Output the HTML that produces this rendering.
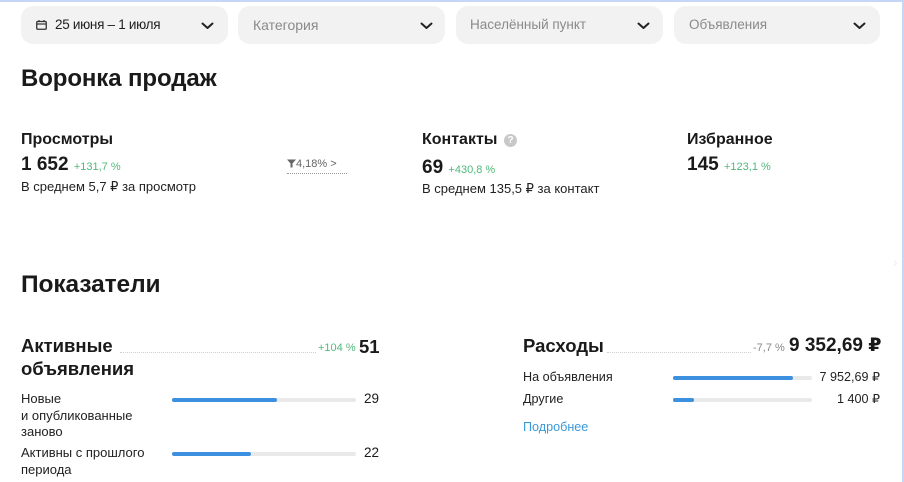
<!DOCTYPE html>
<html><head><meta charset="utf-8">
<style>
*{margin:0;padding:0;box-sizing:border-box}
html,body{width:904px;height:482px;overflow:hidden;background:#fff}
body{position:relative;font-family:"Liberation Sans","DejaVu Sans",sans-serif;color:#1a1a1a}
.a{position:absolute;white-space:nowrap}
.pill{position:absolute;top:6px;height:38px;background:#f2f2f2;border-radius:12px}
.pt{position:absolute;top:0;line-height:38px;font-size:13.5px;color:#8a8a8a}
.chev{position:absolute;top:19px}
.h1{font-size:24px;font-weight:bold;line-height:30px;letter-spacing:-0.1px}
.h3{font-size:16px;font-weight:bold;line-height:20px}
.big{font-size:19px;font-weight:bold;line-height:22px}
.g{color:#4fb97a;font-size:11px}
.s{font-size:12.6px;line-height:16px;color:#222}
.h2{font-size:18.5px;font-weight:bold;line-height:23px}
.bar{position:absolute;height:4px;background:#e9e9e9;border-radius:2px}
.bar i{position:absolute;left:0;top:0;height:4px;background:#3d8fe0;border-radius:2px}
.dots{position:absolute;height:0;border-top:1px dotted #cfcfcf}
</style></head><body>
<div class="a" style="left:0;top:0;width:904px;height:2px;background:#c6d6f6"></div>
<div class="a" style="left:902px;top:0;width:2px;height:482px;background:#c6d6f6"></div>

<!-- filters -->
<div class="pill" style="left:21px;width:207px">
  <svg class="a" style="left:15px;top:14px" width="11" height="10" viewBox="0 0 11 10"><rect x="0.75" y="1.5" width="9.5" height="7.75" rx="1" fill="none" stroke="#333" stroke-width="1.3"/><line x1="0.75" y1="4" x2="10.25" y2="4" stroke="#333" stroke-width="1.2"/><line x1="3" y1="0" x2="3" y2="2" stroke="#333" stroke-width="1.2"/><line x1="8" y1="0" x2="8" y2="2" stroke="#333" stroke-width="1.2"/></svg>
  <div class="pt" style="left:34px;color:#1e1e1e;font-size:13.5px;letter-spacing:-0.3px">25 июня – 1 июля</div>
  <svg class="chev" style="left:180px;top:16px" width="13" height="8" viewBox="0 0 13 8"><polyline points="1.5,1.5 6.5,6 11.5,1.5" fill="none" stroke="#222" stroke-width="2" stroke-linecap="round" stroke-linejoin="round"/></svg>
</div>
<div class="pill" style="left:238px;width:207px">
  <div class="pt" style="left:15px;font-size:14px">Категория</div>
  <svg class="chev" style="left:182px;top:16px" width="13" height="8" viewBox="0 0 13 8"><polyline points="1.5,1.5 6.5,6 11.5,1.5" fill="none" stroke="#222" stroke-width="2" stroke-linecap="round" stroke-linejoin="round"/></svg>
</div>
<div class="pill" style="left:456px;width:207px">
  <div class="pt" style="left:14px">Населённый пункт</div>
  <svg class="chev" style="left:181px;top:16px" width="13" height="8" viewBox="0 0 13 8"><polyline points="1.5,1.5 6.5,6 11.5,1.5" fill="none" stroke="#222" stroke-width="2" stroke-linecap="round" stroke-linejoin="round"/></svg>
</div>
<div class="pill" style="left:674px;width:206px">
  <div class="pt" style="left:15px">Объявления</div>
  <svg class="chev" style="left:179px;top:16px" width="13" height="8" viewBox="0 0 13 8"><polyline points="1.5,1.5 6.5,6 11.5,1.5" fill="none" stroke="#222" stroke-width="2" stroke-linecap="round" stroke-linejoin="round"/></svg>
</div>

<div class="a h1" style="left:21px;top:64px">Воронка продаж</div>

<!-- Просмотры -->
<div class="a h3" style="left:21px;top:130px">Просмотры</div>
<div class="a big" style="left:21px;top:154px">1 652 <span class="g" style="font-weight:normal">+131,7 %</span></div>
<div class="a s" style="left:21px;top:179px;font-size:13px">В среднем 5,7 ₽ за просмотр</div>

<div class="a" style="left:287px;top:157px;font-size:11px;line-height:14px;color:#666">
  <svg width="9" height="9" viewBox="0 0 9 9" style="vertical-align:-1px"><path d="M0,0.5 H9 L5.5,4.5 V8.5 H3.5 V4.5 Z" fill="#666"/></svg>4,18% &gt;
</div>
<div class="dots" style="left:287px;top:173px;width:60px;border-top:1px dotted #999"></div>

<!-- Контакты -->
<div class="a h3" style="left:422px;top:130px">Контакты</div>
<div class="a" style="left:504px;top:134px;width:13px;height:13px;border-radius:50%;background:#c8c8c8;color:#fff;font-size:10px;font-weight:bold;line-height:13px;text-align:center">?</div>
<div class="a big" style="left:422px;top:157px">69 <span class="g" style="font-weight:normal">+430,8 %</span></div>
<div class="a s" style="left:422px;top:181px;font-size:13px">В среднем 135,5 ₽ за контакт</div>

<!-- Избранное -->
<div class="a h3" style="left:687px;top:130px">Избранное</div>
<div class="a big" style="left:687px;top:154px">145 <span class="g" style="font-weight:normal">+123,1 %</span></div>

<div class="a h1" style="left:21px;top:270px;font-size:24.5px">Показатели</div>

<!-- Активные объявления -->
<div class="a h2" style="left:21px;top:334px">Активные</div>
<div class="a h2" style="left:21px;top:357px">объявления</div>
<div class="dots" style="left:120px;top:352px;width:196px"></div>
<div class="a g" style="left:318px;top:341px;line-height:14px">+104 %</div>
<div class="a h2" style="left:359px;top:335px">51</div>

<div class="a s" style="left:21px;top:391px;line-height:16.5px;white-space:normal;width:145px;font-size:13px">Новые<br>и опубликованные<br>заново</div>
<div class="bar" style="left:172px;top:398px;width:184px"><i style="width:105px"></i></div>
<div class="a" style="left:364px;top:391px;font-size:13.5px;line-height:16px">29</div>

<div class="a s" style="left:21px;top:445px;line-height:16.5px;white-space:normal;width:150px;font-size:13px">Активны с прошлого<br>периода</div>
<div class="bar" style="left:172px;top:452px;width:184px"><i style="width:79px"></i></div>
<div class="a" style="left:364px;top:445px;font-size:13.5px;line-height:16px">22</div>

<!-- Расходы -->
<div class="a h2" style="left:523px;top:334px">Расходы</div>
<div class="dots" style="left:607px;top:352px;width:144px"></div>
<div class="a" style="left:753px;top:341px;font-size:11px;line-height:14px;color:#888">-7,7 %</div>
<div class="a h2" style="left:789px;top:334px;font-size:19px">9 352,69 ₽</div>

<div class="a s" style="left:523px;top:369px">На объявления</div>
<div class="bar" style="left:673px;top:376px;width:139px"><i style="width:120px"></i></div>
<div class="a s" style="right:24px;top:369px">7 952,69 ₽</div>

<div class="a s" style="left:523px;top:391px">Другие</div>
<div class="bar" style="left:673px;top:398px;width:139px"><i style="width:21px"></i></div>
<div class="a s" style="right:24px;top:391px">1 400 ₽</div>

<div class="a s" style="left:523px;top:419px;color:#3a9ad9">Подробнее</div>

<div class="a" style="left:893px;top:254px;font-size:14px;color:#eee">›</div>
</body></html>
